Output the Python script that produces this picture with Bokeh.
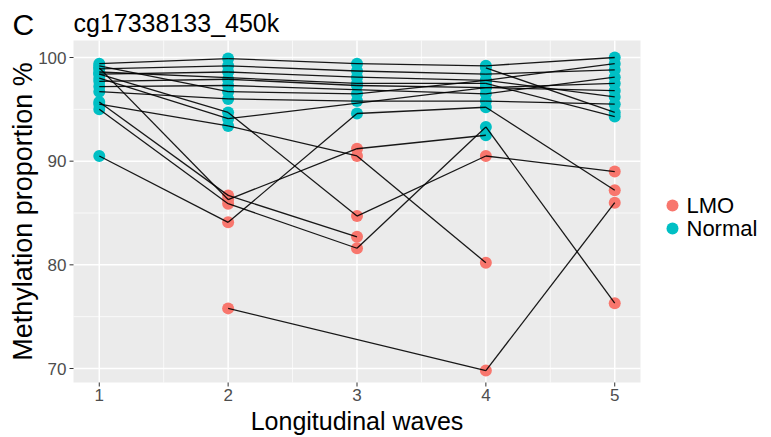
import math
from bokeh.plotting import figure
from bokeh.models import Range1d
from bokeh.core.properties import value
from bokeh.embed import file_html
from bokeh.resources import INLINE

nan = float("nan")

# ---- data ----
waves = [1, 2, 3, 4, 5]
groups = ["LMO", "Normal"]
x_ticks = [1, 2, 3, 4, 5]
x_minor = [1.5, 2.5, 3.5, 4.5]
y_ticks = [70, 80, 90, 100]
y_minor = [75, 85, 95]

s01 = [99.4, 99.9, 99.4, 99.2, 100.0]
g01 = ["Normal", "Normal", "Normal", "Normal", "Normal"]
s02 = [98.9, 99.2, 98.7, 98.4, 98.8]
g02 = ["Normal", "Normal", "Normal", "Normal", "Normal"]
s03 = [98.4, 98.6, 98.1, 97.8, 99.4]
g03 = ["Normal", "Normal", "Normal", "Normal", "Normal"]
s04 = [97.7, 97.9, 97.3, 97.1, 97.5]
g04 = ["Normal", "Normal", "Normal", "Normal", "Normal"]
s05 = [97.2, 97.3, nan, 96.5, 98.1]
g05 = ["Normal", "Normal", "Normal", "Normal", "Normal"]
s06 = [99.2, 96.7, 96.5, 97.8, 96.2]
g06 = ["Normal", "Normal", "Normal", "Normal", "Normal"]
s07 = [96.7, 96.0, 95.8, 95.8, 95.5]
g07 = ["Normal", "Normal", "Normal", "Normal", "Normal"]
s08 = [98.0, 94.1, nan, 97.1, 96.8]
g08 = ["Normal", "Normal", "Normal", "Normal", "Normal"]
s09 = [nan, nan, nan, 99.0, 94.7]
g09 = ["Normal", "Normal", "Normal", "Normal", "Normal"]
s10 = [98.6, nan, 97.5, 97.5, 94.3]
g10 = ["Normal", "Normal", "Normal", "Normal", "Normal"]
s11 = [nan, 75.8, nan, 69.8, 86.0]
g11 = ["LMO", "LMO", "LMO", "LMO", "LMO"]
s12 = [90.5, 84.1, 94.6, 95.2, 87.2]
g12 = ["Normal", "LMO", "Normal", "Normal", "LMO"]
s13 = [95.7, 86.7, 82.7, nan, nan]
g13 = ["Normal", "LMO", "LMO", "LMO", "LMO"]
s14 = [95.0, 85.9, 81.6, 93.3, 76.3]
g14 = ["Normal", "LMO", "LMO", "Normal", "LMO"]
s15 = [99.0, 86.3, 91.2, 92.5, nan]
g15 = ["Normal", "LMO", "LMO", "Normal", "Normal"]
s16 = [95.5, 93.4, 90.5, 80.2, nan]
g16 = ["Normal", "Normal", "LMO", "LMO", "LMO"]
s17 = [98.4, 94.7, 84.7, 90.5, 89.0]
g17 = ["Normal", "Normal", "LMO", "LMO", "LMO"]

subjects = [(s01, g01), (s02, g02), (s03, g03), (s04, g04), (s05, g05), (s06, g06),
            (s07, g07), (s08, g08), (s09, g09), (s10, g10), (s11, g11), (s12, g12),
            (s13, g13), (s14, g14), (s15, g15), (s16, g16), (s17, g17)]

panel_letter = "C"
probe_title = "cg17338133_450k"
x_label = "Longitudinal waves"
y_label = "Methylation proportion %"

# ---- panel geometry (pixels) and data limits ----
W, H = 771, 437
PL, PR, PT, PB = 73, 640, 40, 382
XMIN, XMAX = 0.8, 5.2
YMIN, YMAX = 68.65, 101.64
sx = (PR - PL) / (XMAX - XMIN)
sy = (PB - PT) / (YMAX - YMIN)

def dx(px):
    return XMIN + (px - PL) / sx

def dy(py):
    return YMAX - (py - PT) / sy

# ---- build segments and points ----
x0, y0, x1, y1 = [], [], [], []
pts = {"LMO": ([], []), "Normal": ([], [])}
for vals, grp in subjects:
    prev = None
    for w, v, g in zip(waves, vals, grp):
        if v != v:
            continue
        pts[g][0].append(w)
        pts[g][1].append(v)
        if prev is not None:
            x0.append(prev[0]); y0.append(prev[1]); x1.append(w); y1.append(v)
        prev = (w, v)

FONT = "Liberation Sans"
colors = {"LMO": "#F8766D", "Normal": "#00BFC4"}

p = figure(width=W, height=H, output_backend="svg", toolbar_location=None, title=None,
           x_range=Range1d(dx(0), dx(W)), y_range=Range1d(dy(H), dy(0)),
           x_axis_type=None, y_axis_type=None,
           min_border_left=0, min_border_right=0, min_border_top=0, min_border_bottom=0)
p.grid.visible = False
p.outline_line_color = None
p.background_fill_color = "white"
p.border_fill_color = "white"

# panel background
p.quad(left=[XMIN], right=[XMAX], bottom=[YMIN], top=[YMAX], color="#EBEBEB", line_color=None)

# grid lines
p.segment(x0=x_minor, x1=x_minor, y0=[YMIN] * len(x_minor), y1=[YMAX] * len(x_minor),
          line_color="white", line_width=0.7)
p.segment(x0=[XMIN] * len(y_minor), x1=[XMAX] * len(y_minor), y0=y_minor, y1=y_minor,
          line_color="white", line_width=0.7)
p.segment(x0=x_ticks, x1=x_ticks, y0=[YMIN] * len(x_ticks), y1=[YMAX] * len(x_ticks),
          line_color="white", line_width=1.5)
p.segment(x0=[XMIN] * len(y_ticks), x1=[XMAX] * len(y_ticks), y0=y_ticks, y1=y_ticks,
          line_color="white", line_width=1.5)

# tick marks
p.segment(x0=x_ticks, x1=x_ticks, y0=[dy(PB)] * len(x_ticks), y1=[dy(PB + 4)] * len(x_ticks),
          line_color="#333333", line_width=1)
p.segment(x0=[dx(PL - 4)] * len(y_ticks), x1=[dx(PL)] * len(y_ticks), y0=y_ticks, y1=y_ticks,
          line_color="#333333", line_width=1)

# tick labels
p.text(x=x_ticks, y=[dy(PB + 6)] * len(x_ticks), text=[str(t) for t in x_ticks],
       text_font=value(FONT), text_font_size=value("17px"), text_color="#4D4D4D",
       text_align="center", text_baseline="top")
p.text(x=[dx(PL - 7)] * len(y_ticks), y=y_ticks, text=[str(t) for t in y_ticks],
       text_font=value(FONT), text_font_size=value("17px"), text_color="#4D4D4D",
       text_align="right", text_baseline="middle")

# data
for g in groups:
    p.scatter(x=pts[g][0], y=pts[g][1], size=12, color=colors[g], line_color=None)
p.segment(x0=x0, y0=y0, x1=x1, y1=y1, line_color="black", line_width=1.3, line_alpha=0.9)

# axis titles
p.text(x=[(XMIN + XMAX) / 2], y=[dy(420)], text=[x_label], text_font=value(FONT),
       text_font_size=value("25px"), text_color="black", text_align="center",
       text_baseline="middle")
p.text(x=[dx(22)], y=[(YMIN + YMAX) / 2], text=[y_label], text_font=value(FONT),
       text_font_size=value("27px"), text_color="black", text_align="center",
       text_baseline="middle", angle=math.pi / 2)

# panel letter and title
p.text(x=[dx(12)], y=[dy(24)], text=[panel_letter], text_font=value(FONT),
       text_font_size=value("30px"), text_color="black", text_baseline="middle")
p.text(x=[dx(73)], y=[dy(22)], text=[probe_title], text_font=value(FONT),
       text_font_size=value("25px"), text_color="black", text_baseline="middle")

# legend
key_y = [dy(205), dy(228)]
p.scatter(x=[dx(672)] * 2, y=key_y, size=12, color=[colors[g] for g in groups], line_color=None)
p.text(x=[dx(686)] * 2, y=key_y, text=groups, text_font=value(FONT),
       text_font_size=value("22px"), text_color="black", text_baseline="middle")

open("out.html", "w").write(file_html(p, INLINE))
